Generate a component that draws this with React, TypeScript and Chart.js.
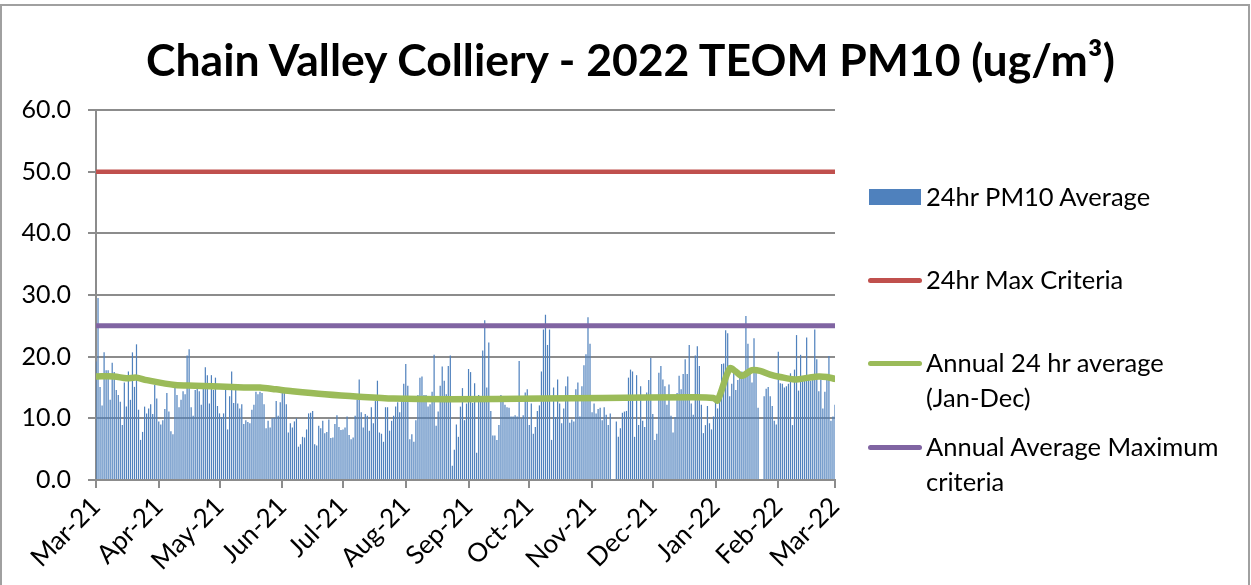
import React, { useEffect, useRef } from 'react';
import { Chart, registerables } from 'chart.js';

Chart.register(...registerables);

// ---- Data ----
const monthLabels = ['Mar-21', 'Apr-21', 'May-21', 'Jun-21', 'Jul-21', 'Aug-21', 'Sep-21', 'Oct-21', 'Nov-21', 'Dec-21', 'Jan-22', 'Feb-22', 'Mar-22'];
const monthStartDays = [0, 31, 61, 92, 122, 153, 184, 214, 245, 275, 306, 337, 365];
const yTicks = [0, 10, 20, 30, 40, 50, 60];

const mar21 = [19.2, 29.5, 15.1, 12.1, 20.7, 17.8, 17.8, 13.0, 19.0, 17.5, 14.6, 13.8, 12.7, 8.9, 15.8, 11.9, 17.6, 13.0, 20.7, 15.1, 22.0, 11.4, 6.5, 7.8, 11.9, 10.8, 11.6, 12.3, 10.7, 15.4, 13.2];
const apr21 = [9.5, 9.0, 9.7, 11.5, 14.1, 11.1, 7.9, 7.4, 15.1, 13.8, 11.8, 13.0, 14.4, 13.9, 20.2, 21.2, 11.8, 10.4, 14.6, 14.9, 14.4, 12.2, 15.1, 18.3, 17.0, 12.4, 17.0, 14.6, 16.6, 12.0];
const may21 = [10.8, 10.2, 10.8, 14.6, 8.2, 13.6, 17.6, 12.5, 14.6, 12.4, 11.6, 12.3, 9.1, 9.7, 9.4, 9.2, 11.4, 12.2, 14.3, 13.9, 14.3, 14.1, 12.3, 8.4, 9.6, 8.5, 10.0, 10.1, 12.8, 10.4, 12.6];
const jun21 = [14.2, 14.2, 12.3, 7.7, 9.2, 8.5, 9.5, 10.0, 5.4, 5.8, 7.0, 6.9, 8.2, 10.8, 10.9, 11.2, 5.8, 5.6, 8.8, 8.4, 9.6, 7.6, 7.8, 9.8, 6.8, 6.9, 9.1, 10.5, 8.6, 8.1];
const jul21 = [8.2, 8.5, 10.3, 7.3, 6.6, 6.9, 10.4, 13.0, 16.3, 11.0, 8.5, 10.7, 10.4, 8.0, 11.8, 9.2, 12.8, 16.1, 7.7, 7.5, 6.2, 11.8, 11.8, 8.0, 9.6, 10.4, 11.9, 12.6, 11.0, 13.6, 15.6];
const aug21 = [18.8, 15.3, 6.6, 7.4, 6.2, 9.7, 13.8, 16.6, 16.8, 13.8, 13.8, 11.9, 12.3, 14.3, 20.3, 8.8, 11.1, 15.3, 18.4, 16.1, 13.9, 18.5, 20.2, 2.3, 4.9, 9.0, 7.0, 11.9, 14.9, 9.7, 12.4];
const sep21 = [18.0, 17.5, 12.5, 15.7, 4.4, 13.8, 13.6, 21.0, 25.9, 15.0, 22.3, 11.2, 7.2, 7.2, 6.5, 8.9, 13.8, 12.8, 12.2, 11.8, 11.7, 10.3, 10.3, 10.5, 10.3, 19.3, 10.0, 10.5, 14.2, 14.7];
const oct21 = [8.9, 12.4, 7.5, 8.6, 11.2, 12.1, 17.6, 24.4, 26.8, 21.9, 24.4, 6.5, 15.0, 10.2, 16.3, 12.4, 9.2, 11.6, 15.2, 16.8, 9.3, 9.8, 9.5, 14.7, 15.8, 10.3, 15.2, 18.6, 20.4, 26.4, 22.1];
const nov21 = [11.0, 12.4, 10.8, 11.5, 11.7, 9.7, 11.8, 10.6, 8.9, 10.8, null, null, 9.5, 7.0, 8.4, 10.9, 11.1, 11.2, 16.6, 17.9, 17.6, 7.0, 17.0, 8.9, 15.2, 9.6, 8.6, 14.2, 16.2, 19.8];
const dec21 = [10.7, 6.5, 7.5, 17.4, 18.5, 16.3, 15.2, 12.2, 15.5, 10.4, 7.7, 10.2, 14.1, 16.9, 14.7, 17.2, 19.6, 17.2, 21.9, 12.4, 10.6, 20.2, 21.7, 18.5, 12.2, 7.6, 8.9, 12.0, 9.2, 8.2, 10.3];
const jan22 = [12.7, 11.6, 14.6, 18.8, 18.9, 24.3, 23.8, 13.6, 15.6, 17.9, 14.6, 16.2, 16.6, 17.6, 16.8, 26.6, 22.1, 17.4, 15.8, 23.0, 17.9, 11.7, null, null, 13.6, 14.8, 15.1, 13.6, 12.0, 9.6, 9.0];
const feb22 = [20.8, 15.7, 15.6, 15.0, 15.2, 15.6, 17.3, 8.9, 17.9, 23.5, 14.5, 20.3, 16.2, 16.3, 23.1, 16.3, 16.1, 16.3, 24.4, 19.6, 14.4, 16.3, 11.6, 14.3, 16.3, 20.1, 9.6, 10.3];
const mar22 = [12.2];

// Annual 24 hr average (Jan-Dec) – day index and value
const avgDays = [0, 9, 15, 20, 25, 39, 49, 73, 81, 89, 97, 113, 130, 147, 175, 220, 250, 294, 305, 307, 313, 316, 319, 324, 328, 333, 338, 345, 352, 357, 361, 365];
const avgValues = [16.8, 16.8, 16.5, 16.6, 16.2, 15.4, 15.3, 15.0, 15.0, 14.7, 14.4, 13.9, 13.5, 13.2, 13.1, 13.2, 13.3, 13.4, 13.3, 12.9, 18.1, 17.6, 16.9, 17.8, 17.7, 17.1, 16.7, 16.3, 16.6, 16.8, 16.7, 16.4];

const maxCriteria = 50;
const annualMaxCriteria = 25;

const FONT = 'Lato, "Open Sans", sans-serif';

export default function App() {
  const canvasRef = useRef<HTMLCanvasElement>(null);

  useEffect(() => {
    document.body.style.margin = '0';
    const pm10 = [...mar21, ...apr21, ...may21, ...jun21, ...jul21, ...aug21, ...sep21, ...oct21, ...nov21, ...dec21, ...jan22, ...feb22, ...mar22];
    const lastDay = monthStartDays[monthStartDays.length - 1];
    const barData = pm10.map((v, i) => ({ x: i, y: v }));
    const avgData = avgDays.map((d, i) => ({ x: d, y: avgValues[i] }));

    const chart = new Chart(canvasRef.current as HTMLCanvasElement, {
      type: 'bar',
      data: {
        datasets: [
          {
            type: 'line',
            label: '24hr Max Criteria',
            data: [{ x: 0, y: maxCriteria }, { x: lastDay, y: maxCriteria }],
            borderColor: '#c0504d',
            borderWidth: 4.5,
            pointRadius: 0,
            borderCapStyle: 'round',
            order: 1,
          },
          {
            type: 'line',
            label: 'Annual 24 hr average (Jan-Dec)',
            data: avgData,
            borderColor: '#9bbb59',
            borderWidth: 6.5,
            pointRadius: 0,
            tension: 0.3,
            borderCapStyle: 'round',
            borderJoinStyle: 'round',
            order: 2,
          },
          {
            type: 'line',
            label: 'Annual Average Maximum criteria',
            data: [{ x: 0, y: annualMaxCriteria }, { x: lastDay, y: annualMaxCriteria }],
            borderColor: '#8064a2',
            borderWidth: 5,
            pointRadius: 0,
            borderCapStyle: 'round',
            order: 3,
          },
          {
            type: 'bar',
            label: '24hr PM10 Average',
            data: barData as any,
            backgroundColor: '#4f81bd',
            borderWidth: 0,
            barPercentage: 0.6,
            categoryPercentage: 1,
            order: 10,
          },
        ],
      } as any,
      options: {
        animation: false,
        responsive: false,
        maintainAspectRatio: false,
        layout: { padding: { left: 0, right: 416, top: 110, bottom: 0 } },
        plugins: { legend: { display: false }, tooltip: { enabled: false }, title: { display: false } },
        scales: {
          x: {
            type: 'linear',
            min: 0,
            max: lastDay,
            offset: false,
            grid: { display: true, drawOnChartArea: false, drawTicks: true, tickLength: 8, color: '#8c8c8c', lineWidth: 2, offset: false },
            border: { display: true, color: '#8c8c8c', width: 2 },
            afterBuildTicks: (scale: any) => {
              scale.ticks = monthStartDays.map((v) => ({ value: v }));
            },
            afterFit: (scale: any) => {
              scale.height = 105;
            },
            ticks: {
              autoSkip: false,
              maxRotation: 45,
              minRotation: 45,
              padding: 3,
              color: '#000',
              font: { family: FONT, size: 26 },
              callback: (_v: any, i: number) => monthLabels[i],
            },
          },
          y: {
            min: 0,
            max: 60,
            afterBuildTicks: (scale: any) => {
              scale.ticks = yTicks.map((v) => ({ value: v }));
            },
            afterFit: (scale: any) => {
              scale.width = 96;
            },
            grid: { color: '#8c8c8c', lineWidth: 2, tickLength: 8, drawTicks: true },
            border: { display: true, color: '#8c8c8c', width: 2 },
            ticks: {
              padding: 17,
              color: '#000',
              font: { family: FONT, size: 25 },
              callback: (v: any) => Number(v).toFixed(1),
            },
          },
        },
      },
    });
    return () => chart.destroy();
  }, []);

  const legendText: React.CSSProperties = {
    position: 'absolute',
    left: 926,
    fontFamily: FONT,
    fontSize: 25.5,
    lineHeight: '35px',
    color: '#000',
    whiteSpace: 'nowrap',
  };
  const legendLine = (top: number, color: string): React.CSSProperties => ({
    position: 'absolute',
    left: 868,
    top: top - 2.5,
    width: 54,
    height: 5,
    borderRadius: 3,
    background: color,
  });

  return (
    <div style={{ position: 'relative', width: 1251, height: 585, overflow: 'hidden', background: '#fff' }}>
      <div style={{ position: 'absolute', left: 0, top: 4, width: 1246, height: 640, border: '2px solid #a0a0a0' }} />
      <canvas ref={canvasRef} width={1251} height={585} style={{ position: 'absolute', left: 0, top: 0, width: 1251, height: 585 }} />
      <div style={{ position: 'absolute', left: 5, top: 30, width: 1251, textAlign: 'center', fontFamily: FONT, fontWeight: 700, fontSize: 44.5, lineHeight: '58px', color: '#000' }}>
        Chain Valley Colliery - 2022 TEOM PM10 (ug/m³)
      </div>
      <div style={{ position: 'absolute', left: 869, top: 189, width: 52, height: 16, background: '#4f81bd' }} />
      <div style={{ ...legendText, top: 179 }}>24hr PM10 Average</div>
      <div style={legendLine(280, '#c0504d')} />
      <div style={{ ...legendText, top: 262 }}>24hr Max Criteria</div>
      <div style={legendLine(363, '#9bbb59')} />
      <div style={{ ...legendText, top: 345 }}>Annual 24 hr average<br />(Jan-Dec)</div>
      <div style={legendLine(447, '#8064a2')} />
      <div style={{ ...legendText, top: 429 }}>Annual Average Maximum<br />criteria</div>
    </div>
  );
}
